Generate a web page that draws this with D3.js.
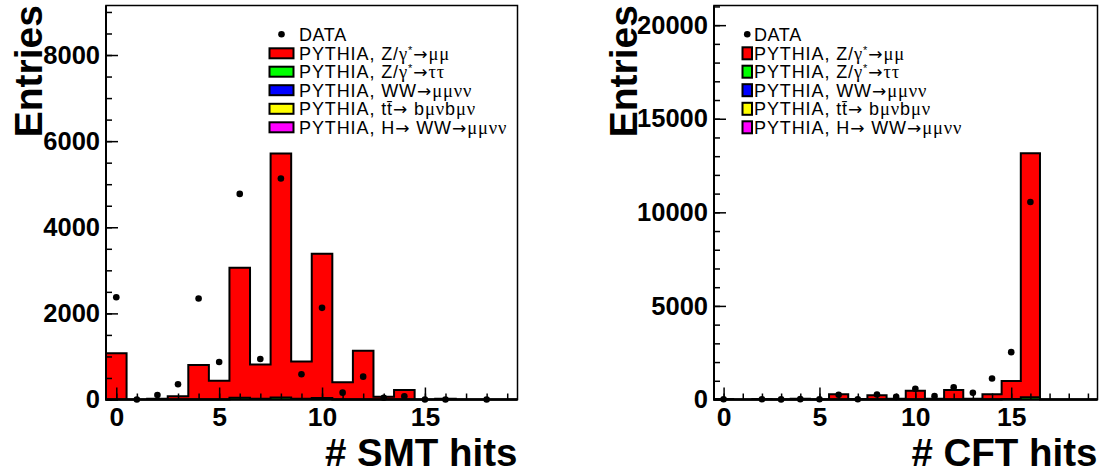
<!DOCTYPE html>
<html>
<head>
<meta charset="utf-8">
<script src="https://cdn.jsdelivr.net/npm/d3@7"></script>
<style>
  body { margin: 0; background: #fff; }
  svg { display: block; }
  text { font-family: "Liberation Sans", Arial, Helvetica, sans-serif; }
</style>
</head>
<body>
<svg id="chart" width="1108" height="476"></svg>
<script>
// bins are integer hit counts 0..19
const hitBins = d3.range(20);

// SMT hits panel
const smtZmumu   = [1075, 0, 20, 74, 802, 437, 3017, 790, 5667, 860, 3347, 400, 1135, 65, 220, 0, 20, 0, 0, 0];
const smtZtautau = [0, 0, 0, 0, 0, 0, 40, 20, 45, 20, 35, 0, 0, 0, 0, 0, 0, 0, 0, 0];
const smtData    = [2376, 0, 105, 353, 2345, 872, 4775, 942, 5131, 586, 2128, 159, 531, 42, 74, 0, 0, null, 0, null];
const smtYTicks  = [0, 2000, 4000, 6000, 8000];

// CFT hits panel
const cftZmumu   = [30, 0, 25, 10, 40, 15, 280, 30, 230, 40, 465, 40, 505, 40, 278, 960, 13040, 0, 0, 0];
const cftZtautau = [0, 0, 0, 0, 0, 0, 0, 0, 0, 0, 0, 0, 0, 0, 0, 30, 120, 0, 0, 0];
const cftData    = [10, null, 10, 5, 20, 10, 250, 10, 270, 140, 570, 180, 650, 360, 1120, 2530, 10550, null, null, null];
const cftYTicks  = [0, 5000, 10000, 15000, 20000];

const xTicks = [0, 5, 10, 15];

const legendLabels = [
  "PYTHIA, Z/γ*→μμ",
  "PYTHIA, Z/γ*→ττ",
  "PYTHIA, WW→μμνν",
  "PYTHIA, tt\u0304→ bμνbμν",
  "PYTHIA, H→ WW→μμνν"
];
const legendColors = ["#ff0000", "#00ff00", "#0000ff", "#ffff00", "#ff00ff"];

const svg = d3.select("#chart");
svg.append("rect").attr("width", 1108).attr("height", 476).attr("fill", "#fff");

function stepPoints(values) {
  const pts = [[-0.5, 0]];
  values.forEach((v, i) => { pts.push([i - 0.5, v]); pts.push([i + 0.5, v]); });
  pts.push([values.length - 0.5, 0]);
  return pts;
}

// greek letters in a serif face, arrows wide, "*" up as superscript
function writeLabel(sel, label) {
  const runs = [];
  for (const ch of label) {
    let kind = "sans";
    if (ch === "*") kind = "sup";
    else if (ch === "→") kind = "arrow";
    else if (/[γμντ]/.test(ch)) kind = "serif";
    if (runs.length && runs[runs.length - 1].kind === kind) runs[runs.length - 1].t += ch;
    else runs.push({ kind, t: ch });
  }
  runs.forEach(r => {
    const ts = sel.append("tspan").text(r.t);
    if (r.kind === "serif") ts.attr("font-family", "'Liberation Serif', 'Times New Roman', serif").attr("font-size", 18.5);
    if (r.kind === "arrow") ts.attr("font-family", "'DejaVu Sans', sans-serif").attr("font-size", 17);
    if (r.kind === "sup") ts.attr("font-size", 11).attr("baseline-shift", "6");
  });
}

function drawPanel(cfg) {
  const x = d3.scaleLinear().domain([-0.5, 19.5]).range([cfg.left, cfg.right]);
  const y = d3.scaleLinear().domain([0, cfg.yMax]).range([cfg.bottom, cfg.top]);
  const g = svg.append("g");

  const line = d3.line().x(d => x(d[0])).y(d => y(d[1]));

  // stacked MC: Z->mumu on top of the small Z->tautau part
  const stacked = cfg.zmumu.map((v, i) => v + cfg.ztautau[i]);
  g.append("path").attr("d", line(stepPoints(stacked)) + "Z")
    .attr("fill", legendColors[0]).attr("stroke", "#000").attr("stroke-width", 2);
  g.append("path").attr("d", line(stepPoints(cfg.ztautau)))
    .attr("fill", legendColors[1]).attr("stroke", "#000").attr("stroke-width", 2);

  // axes with inward ticks
  const xMinor = g.append("g").attr("transform", `translate(0,${cfg.bottom})`)
    .call(d3.axisBottom(x).tickValues(hitBins).tickSize(-6).tickFormat(""));
  const xMajor = g.append("g").attr("transform", `translate(0,${cfg.bottom})`)
    .call(d3.axisBottom(x).tickValues(xTicks).tickSize(-12).tickPadding(8).tickFormat(d3.format("d")));
  const yMinor = g.append("g").attr("transform", `translate(${cfg.left},0)`)
    .call(d3.axisLeft(y).tickValues(d3.range(0, cfg.yMax, cfg.yMinorStep)).tickSize(-6).tickFormat(""));
  const yMajor = g.append("g").attr("transform", `translate(${cfg.left},0)`)
    .call(d3.axisLeft(y).tickValues(cfg.yTicks).tickSize(-12).tickPadding(6).tickFormat(d3.format("d")));
  [xMinor, xMajor, yMinor, yMajor].forEach(a => {
    a.select(".domain").remove();
    a.selectAll(".tick line").attr("stroke", "#000").attr("stroke-width", 1.5);
    a.selectAll("text").attr("font-family", "'Liberation Sans', Arial, sans-serif")
      .attr("font-weight", "bold").attr("fill", "#000");
  });
  xMajor.selectAll("text").attr("font-size", 26.5);
  yMajor.selectAll("text").attr("font-size", 25.5);

  // frame
  g.append("rect").attr("x", cfg.left).attr("y", cfg.top)
    .attr("width", cfg.right - cfg.left).attr("height", cfg.bottom - cfg.top)
    .attr("fill", "none").attr("stroke", "#000").attr("stroke-width", 1.5);
  g.append("path").attr("d", `M${cfg.left},${cfg.top}V${cfg.bottom}H${cfg.right}`)
    .attr("fill", "none").attr("stroke", "#000").attr("stroke-width", 2);

  // data points
  g.selectAll(".pt").data(cfg.data.map((v, i) => [i, v]).filter(d => d[1] !== null))
    .enter().append("circle").attr("class", "pt")
    .attr("cx", d => x(d[0])).attr("cy", d => y(d[1])).attr("r", 3.3).attr("fill", "#000");

  // axis titles
  g.append("text").attr("x", cfg.right).attr("y", 466).attr("text-anchor", "end")
    .attr("font-size", 38.5).attr("font-weight", "bold").text(cfg.xTitle);
  g.append("text").attr("transform", `translate(${cfg.yTitleX},5) rotate(-90)`)
    .attr("text-anchor", "end").attr("font-size", 39).attr("font-weight", "bold").text("Entries");

  // legend
  const lg = g.append("g");
  const rowY = [34.3, 53.3, 71.7, 90.2, 108.8, 127.3];
  const swCx = cfg.swX + cfg.swW / 2;
  lg.append("circle").attr("cx", swCx).attr("cy", rowY[0]).attr("r", 3.3).attr("fill", "#000");
  lg.append("text").attr("x", cfg.textX).attr("y", rowY[0] + 6.5).attr("font-size", 18)
    .attr("letter-spacing", 0.6).text("DATA");
  legendLabels.forEach((lab, i) => {
    const cy = rowY[i + 1];
    lg.append("rect").attr("x", cfg.swX).attr("y", cy - cfg.swH / 2)
      .attr("width", cfg.swW).attr("height", cfg.swH)
      .attr("fill", legendColors[i]).attr("stroke", "#000").attr("stroke-width", 2);
    const t = lg.append("text").attr("x", cfg.textX).attr("y", cy + 6.5).attr("font-size", 18)
      .attr("letter-spacing", 0.9);
    writeLabel(t, lab);
  });
}

drawPanel({
  left: 106, right: 517.5, top: 5.5, bottom: 399.5,
  yMax: 9150, yTicks: smtYTicks, yMinorStep: 500,
  zmumu: smtZmumu, ztautau: smtZtautau, data: smtData,
  xTitle: "# SMT hits", yTitleX: 42,
  swX: 269.5, swW: 24, swH: 10, textX: 299
});

drawPanel({
  left: 714, right: 1097.5, top: 5.5, bottom: 399.5,
  yMax: 21050, yTicks: cftYTicks, yMinorStep: 1000,
  zmumu: cftZmumu, ztautau: cftZtautau, data: cftData,
  xTitle: "# CFT hits", yTitleX: 637,
  swX: 742.5, swW: 9.5, swH: 12, textX: 754
});
</script>
</body>
</html>
